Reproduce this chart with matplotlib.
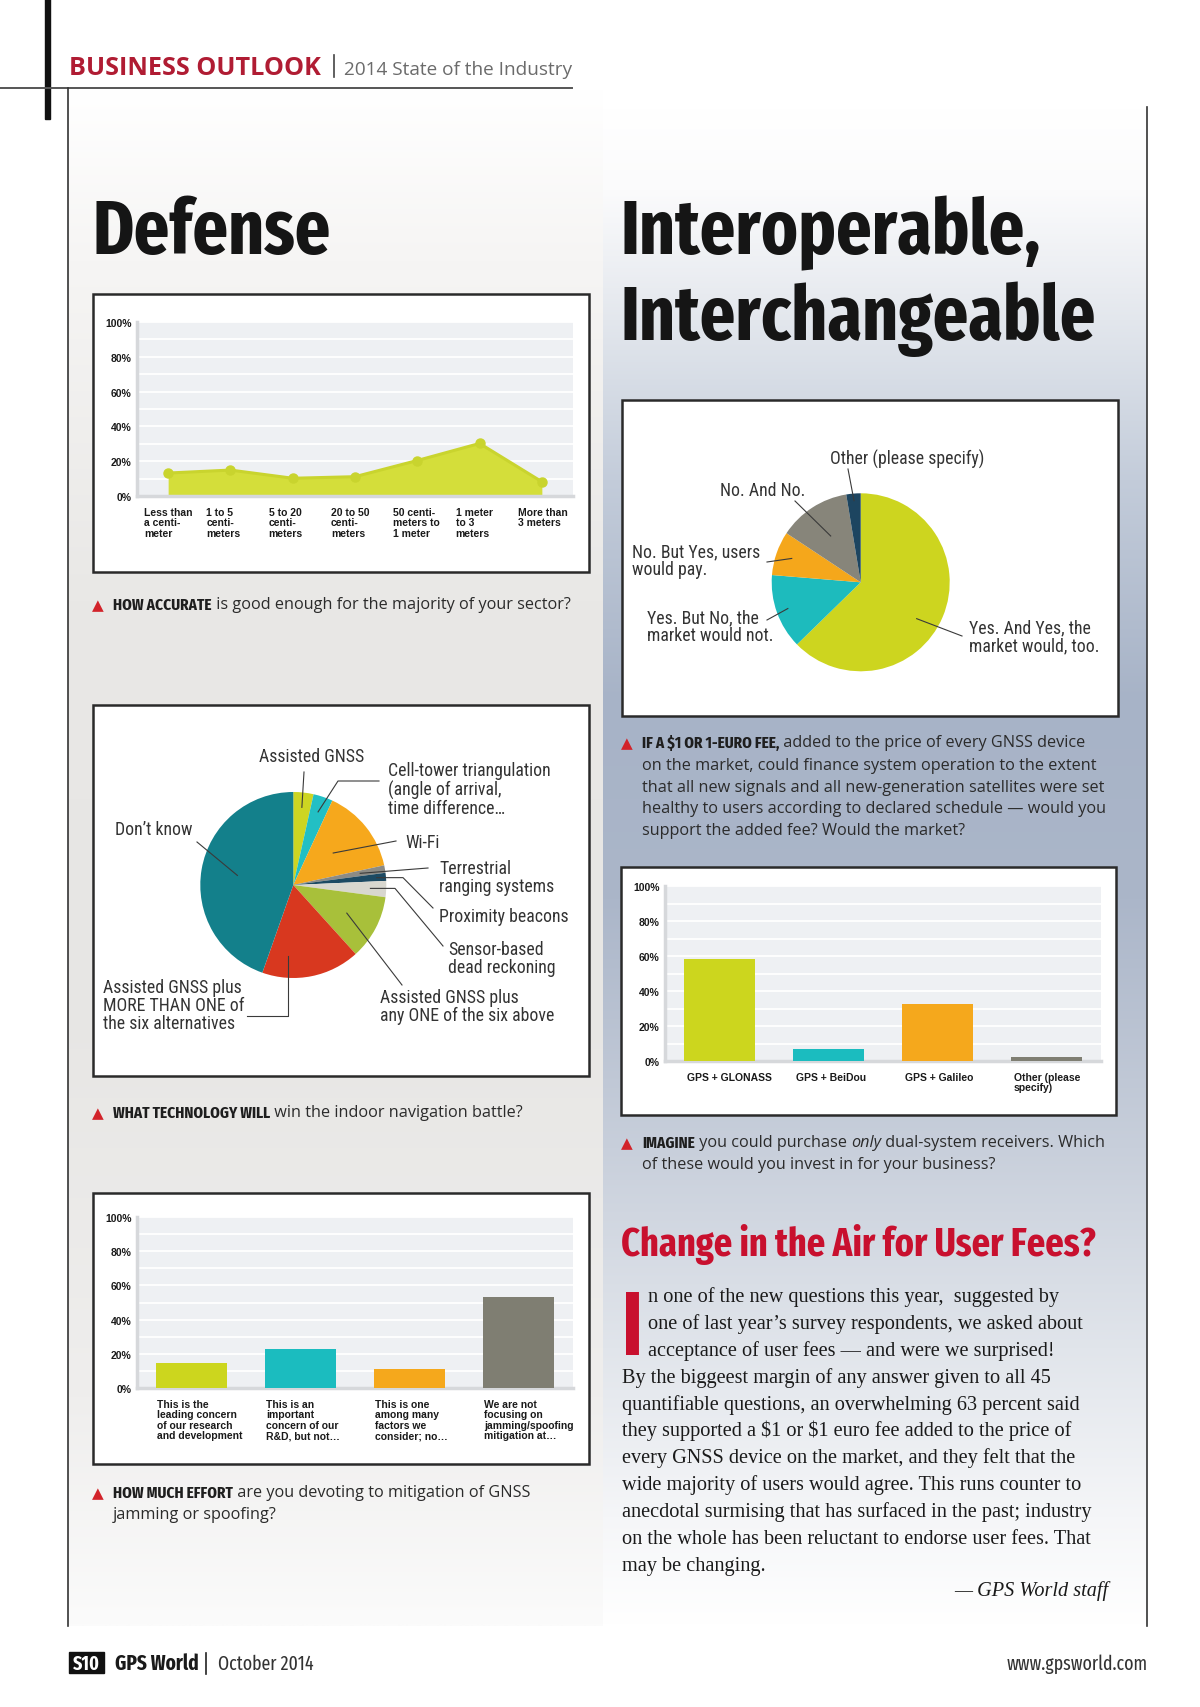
import numpy as np
import matplotlib
matplotlib.use("Agg")
import matplotlib.pyplot as plt
from matplotlib.patches import Rectangle

# ---------------- data ----------------
accuracy_labels = ["Less than\na centi-\nmeter", "1 to 5\ncenti-\nmeters", "5 to 20\ncenti-\nmeters",
                   "20 to 50\ncenti-\nmeters", "50 centi-\nmeters to\n1 meter", "1 meter\nto 3\nmeters",
                   "More than\n3 meters"]
accuracy_values = [13.2, 14.9, 10.2, 11.1, 20.4, 30.2, 8.2]

indoor_labels = ["Assisted GNSS", "Cell-tower triangulation", "Wi-Fi", "Terrestrial ranging systems",
                 "Proximity beacons", "Sensor-based dead reckoning", "Assisted GNSS plus any ONE",
                 "Assisted GNSS plus MORE THAN ONE", "Don't know"]
indoor_values = [3.5, 3.4, 14.7, 1.3, 1.4, 2.8, 11.2, 17.1, 44.6]
indoor_colors = ["#cdd522", "#22bfc4", "#f6a81c", "#8c8b85", "#1c4a63", "#d8d7cf", "#a8c03a", "#d8381f", "#13808b"]

jam_labels = ["This is the\nleading concern\nof our research\nand development",
              "This is an\nimportant\nconcern of our\nR&D, but not\u2026",
              "This is one\namong many\nfactors we\nconsider; no\u2026",
              "We are not\nfocusing on\njamming/spoofing\nmitigation at\u2026"]
jam_values = [14.6, 22.6, 11.3, 53.2]
jam_colors = ["#ccd61e", "#1bbcbf", "#f5a81c", "#7f7e72"]

fee_labels = ["Yes. And Yes, the\nmarket would, too.", "Yes. But No, the\nmarket would not.",
              "No. But Yes, users\nwould pay.", "No. And No.", "Other (please specify)"]
fee_values = [62.7, 13.6, 8.0, 13.1, 2.6]
fee_colors = ["#cdd51f", "#1dbbbd", "#f5a71b", "#87857a", "#1d4560"]

dual_labels = ["GPS + GLONASS", "GPS + BeiDou", "GPS + Galileo", "Other (please\nspecify)"]
dual_values = [58.5, 6.6, 32.5, 2.4]
dual_colors = ["#ccd61e", "#1bbcbf", "#f5a81c", "#7f7e72"]

pct_ticks = [0, 20, 40, 60, 80, 100]
pct_ticklabels = ["0%", "20%", "40%", "60%", "80%", "100%"]

# ---------------- fonts ----------------
XCOND = ["Fira Sans Extra Condensed", "Fira Sans Condensed", "Barlow Condensed", "DejaVu Sans"]
LABELF = ["Roboto Condensed", "Archivo Narrow", "Fira Sans Condensed", "DejaVu Sans"]
SANS = ["Open Sans", "Lato", "DejaVu Sans"]
ARIAL = ["Liberation Sans", "DejaVu Sans"]
SERIF = ["Liberation Serif", "DejaVu Serif"]
OPEN = ["Open Sans", "DejaVu Sans"]

W, H = 1200, 1708
fig = plt.figure(figsize=(W / 100, H / 100), dpi=100)
fig.patch.set_facecolor("white")


def rect(x0, y0, x1, y1):
    return [x0 / W, 1 - y1 / H, (x1 - x0) / W, (y1 - y0) / H]


# ---------------- background ----------------
bg = fig.add_axes([0, 0, 1, 1])
bg.set_axis_off()


def vgrad(ax, x0, x1, y0, y1, stops_y, stops_c):
    ys = np.linspace(y0, y1, 400)
    cols = np.array([matplotlib.colors.to_rgb(c) for c in stops_c])
    img = np.stack([np.interp(ys, stops_y, cols[:, k]) for k in range(3)], axis=-1)
    img = img[:, None, :]
    ax.imshow(img, extent=(x0, x1, y1, y0), aspect="auto", origin="upper",
              interpolation="bilinear", zorder=0)


vgrad(bg, 68, 603, 89, 1627,
      [89, 260, 600, 1000, 1400, 1627],
      ["#ffffff", "#f6f5f4", "#e9e8e6", "#e7e6e4", "#efeeed", "#fbfbfb"])
vgrad(bg, 603, 1147, 108, 1627,
      [108, 190, 320, 480, 700, 900, 1150, 1350, 1520, 1627],
      ["#ffffff", "#fbfbfc", "#e3e7ed", "#c3ccda", "#a7b3c7", "#abb6c9", "#c8cfdb", "#e1e5eb", "#f5f6f8", "#ffffff"])
bg.set_xlim(0, W)
bg.set_ylim(H, 0)

# page rules
bg.add_patch(Rectangle((45, 0), 5, 120, color="#111111", zorder=3))
bg.plot([0, 572], [89, 89], color="#555555", lw=1.4, zorder=3)
bg.plot([68, 68], [89, 1627], color="#333333", lw=1.2, zorder=3)
bg.plot([1147, 1147], [108, 1627], color="#333333", lw=1.2, zorder=3)
bg.plot([334, 334], [56, 78], color="#444444", lw=1.2, zorder=3)
bg.plot([206, 206], [1654, 1675], color="#222222", lw=1.2, zorder=3)

# chart frames
for (x0, y0, x1, y1) in [(93, 295, 589, 573), (93, 706, 589, 1077), (93, 1194, 589, 1465),
                         (622, 401, 1118, 717), (621, 868, 1116, 1116)]:
    bg.add_patch(Rectangle((x0, y0), x1 - x0, y1 - y0, facecolor="white",
                           edgecolor="#2a2a2a", lw=1.8, zorder=4))
bg.add_patch(Rectangle((69, 1653), 35, 21, color="#111111", zorder=4))


# ---------------- helper for small charts ----------------
def style_chart(ax):
    ax.set_facecolor("#eef0f3")
    ax.set_ylim(0, 100)
    ax.set_yticks(pct_ticks)
    ax.set_yticklabels(pct_ticklabels)
    ax.set_yticks(np.arange(0, 101, 10), minor=True)
    ax.grid(axis="y", which="both", color="white", lw=1.3)
    ax.set_axisbelow(True)
    for s in ["top", "right"]:
        ax.spines[s].set_visible(False)
    for s in ["left", "bottom"]:
        ax.spines[s].set_color("#d6d8db")
        ax.spines[s].set_linewidth(2.5)
    ax.tick_params(axis="both", which="both", length=0, pad=4)
    ax.set_xticks([])
    for lbl in ax.get_yticklabels():
        lbl.set_fontfamily(ARIAL)
        lbl.set_fontweight("bold")
        lbl.set_fontsize(7.5)
        lbl.set_color("#1a1a1a")


TICKLBL = dict(ha="left", va="top", fontsize=7.5, fontweight="bold", family=ARIAL,
               color="#1a1a1a", linespacing=1.05, annotation_clip=False,
               xycoords=("data", "axes fraction"), textcoords="offset pixels")

# chart 1: accuracy area
ax1 = fig.add_axes(rect(137, 323, 573, 497))
style_chart(ax1)
xs = np.arange(len(accuracy_values))
ax1.set_xlim(-0.5, len(xs) - 0.5)
ax1.fill_between(xs, accuracy_values, color="#d4de3a", zorder=2, lw=0)
ax1.plot(xs, accuracy_values, color="#c9d42e", lw=2.2, marker="o", ms=6.5, zorder=3)
for i, lab in enumerate(accuracy_labels):
    ax1.annotate(lab, xy=(i, 0), xytext=(-24, -11), **TICKLBL)

# chart 3: jamming bars
ax3 = fig.add_axes(rect(137, 1218, 573, 1389))
style_chart(ax3)
xb = np.arange(len(jam_values))
ax3.set_xlim(-0.5, len(xb) - 0.5)
bw = 0.65
ax3.bar(xb, jam_values, width=bw, color=jam_colors, zorder=3)
for i, lab in enumerate(jam_labels):
    ax3.annotate(lab, xy=(i - bw / 2, 0), xytext=(1, -11), **TICKLBL)

# chart 5: dual system bars
ax5 = fig.add_axes(rect(665, 887, 1101, 1062))
style_chart(ax5)
xd = np.arange(len(dual_values))
ax5.set_xlim(-0.5, len(xd) - 0.5)
ax5.bar(xd, dual_values, width=0.66, color=dual_colors, zorder=3)
for i, lab in enumerate(dual_labels):
    ax5.annotate(lab, xy=(i - 0.33, 0), xytext=(3, -11), **TICKLBL)

# pies
L_CX, L_CY, L_R = 293.3, 886.0, 93.0
R_CX, R_CY, R_R = 860.7, 583.3, 89.0

axp1 = fig.add_axes(rect(L_CX - L_R, L_CY - L_R, L_CX + L_R, L_CY + L_R))
axp1.pie(indoor_values, colors=indoor_colors, startangle=90, counterclock=False, radius=1,
         wedgeprops=dict(linewidth=0))
axp1.set_xlim(-1, 1); axp1.set_ylim(-1, 1); axp1.set_axis_off()

axp2 = fig.add_axes(rect(R_CX - R_R, R_CY - R_R, R_CX + R_R, R_CY + R_R))
axp2.pie(fee_values, colors=fee_colors, startangle=90, counterclock=False, radius=1,
         wedgeprops=dict(linewidth=0))
axp2.set_xlim(-1, 1); axp2.set_ylim(-1, 1); axp2.set_axis_off()

# ---------------- overlay for text ----------------
ov = fig.add_axes([0, 0, 1, 1])
ov.set_xlim(0, W)
ov.set_ylim(H, 0)
ov.set_axis_off()
ov.patch.set_alpha(0)


def pie_point(cx, cy, R, vals, idx, frac, r):
    tot = float(sum(vals))
    a = (sum(vals[:idx]) + frac * vals[idx]) / tot * 2 * np.pi
    return cx + r * R * np.sin(a), cy - r * R * np.cos(a)


LBL = dict(family=LABELF, fontsize=12.8, color="#333333", linespacing=1.0)
LEAD = dict(color="#3a3a3a", lw=0.8, zorder=6)

left_specs = [
    ("Assisted GNSS", 312, 757, "center", 0, 0.5, 0.84, (304, 773), None),
    ("Cell-tower triangulation\n(angle of arrival,\ntime difference\u2026", 388, 790, "left", 1, 0.5, 0.83, (379, 782), ("h", 338)),
    ("Wi-Fi", 405, 843, "left", 2, 0.5, 0.55, (396, 842), None),
    ("Terrestrial\nranging systems", 439, 878, "left", 3, 0.5, 0.73, (428, 869), None),
    ("Proximity beacons", 439, 917, "left", 4, 0.5, 0.9, (433, 909), ("d", 403)),
    ("Sensor-based\ndead reckoning", 448, 959, "left", 5, 0.5, 0.83, (443, 947), ("d", 395)),
    ("Assisted GNSS plus\nany ONE of the six above", 380, 1007, "left", 6, 0.5, 0.65, (402, 986), None),
    ("Assisted GNSS plus\nMORE THAN ONE of\nthe six alternatives", 103, 1006, "left", 7, 0.75, 0.77, (247, 1017), ("v", None)),
    ("Don\u2019t know", 115, 830, "left", 8, 0.5, 0.61, (197, 843), None),
]
for txt, x, y, ha, idx, frac, r, start, elbow in left_specs:
    ov.text(x, y, txt, ha=ha, va="center", **LBL)
    px, py = pie_point(L_CX, L_CY, L_R, indoor_values, idx, frac, r)
    if elbow is None:
        ov.plot([start[0], px], [start[1], py], **LEAD)
    elif elbow[0] == "h":
        ov.plot([start[0], elbow[1], px], [start[1], start[1], py], **LEAD)
    elif elbow[0] == "d":
        ov.plot([start[0], elbow[1], px], [start[1], py, py], **LEAD)
    else:
        ov.plot([start[0], px, px], [start[1], start[1], py], **LEAD)

right_specs = [
    (fee_labels[4], 830, 459, 4, 0.5, 0.92, (848, 470)),
    (fee_labels[3], 720, 491, 3, 0.5, 0.62, (795, 502)),
    (fee_labels[2], 632, 561, 2, 0.5, 0.82, (767, 563)),
    (fee_labels[1], 647, 627, 1, 0.5, 0.87, (767, 621)),
    (fee_labels[0], 969, 637, 0, 0.545, 0.75, (962, 637)),
]
for txt, x, y, idx, frac, r, start in right_specs:
    ov.text(x, y, txt, ha="left", va="center", **LBL)
    px, py = pie_point(R_CX, R_CY, R_R, fee_values, idx, frac, r)
    ov.plot([start[0], px], [start[1], py], **LEAD)

# header
ov.text(69, 75, "BUSINESS OUTLOOK", family=OPEN, fontweight="bold", fontsize=18.2,
        color="#b01c33", va="baseline", ha="left")
ov.text(344, 75, "2014 State of the Industry", family=OPEN, fontsize=13.7, color="#6b6b6b",
        va="baseline", ha="left")

# headlines
HEAD = dict(family=XCOND, fontweight="bold", fontsize=54.5, color="#151515", va="baseline", ha="left")
ov.text(92, 254, "Defense", **HEAD)
ov.text(620, 254, "Interoperable,", **HEAD)
ov.text(620, 340, "Interchangeable", **HEAD)

CAP = 11.7
BOLDCAP = 11.9


# captions
def caption(x, y, parts, size=CAP):
    ov.text(x - 21, y, "\u25b2", family=["DejaVu Sans"], fontsize=11, color="#d2232a",
            va="baseline", ha="left")
    prev = None
    for txt, kind in parts:
        kw = dict(fontsize=size, color="#2b2b2b", parse_math=False)
        if kind == "b":
            kw.update(family=XCOND, fontweight="bold", color="#1e1e1e", fontsize=BOLDCAP)
        elif kind == "i":
            kw.update(family=SANS, fontstyle="italic", fontweight="normal")
        else:
            kw.update(family=SANS, fontweight="normal")
        if prev is None:
            prev = ov.text(x, y, txt, va="baseline", ha="left", **kw)
        else:
            prev = ov.annotate(txt, xy=(1, 0), xycoords=prev, va="bottom", ha="left", **kw)


def more_lines(x, y0, step, lines, size=CAP):
    for k, ln in enumerate(lines):
        ov.text(x, y0 + k * step, ln, family=SANS, fontweight="normal", fontsize=size,
                color="#2b2b2b", va="baseline", ha="left", parse_math=False)


caption(113, 610, [("HOW ACCURATE", "b"), (" is good enough for the majority of your sector?", "r")])
caption(113, 1118, [("WHAT TECHNOLOGY WILL", "b"), (" win the indoor navigation battle?", "r")])
caption(113, 1498, [("HOW MUCH EFFORT", "b"), (" are you devoting to mitigation of GNSS", "r")])
more_lines(113, 1519, 21, ["jamming or spoofing?"])
caption(642, 748, [("IF A $1 OR 1-EURO FEE,", "b"), (" added to the price of every GNSS device", "r")])
more_lines(642, 770, 21.7, ["on the market, could finance system operation to the extent",
                            "that all new signals and all new-generation satellites were set",
                            "healthy to users according to declared schedule \u2014 would you",
                            "support the added fee? Would the market?"])
caption(642, 1148, [("IMAGINE", "b"), (" you could purchase ", "r"), ("only", "i"),
                    (" dual-system receivers. Which", "r")])
more_lines(642, 1169, 21, ["of these would you invest in for your business?"])

# article
ov.text(621, 1256, "Change in the Air for User Fees?", family=XCOND, fontweight="bold",
        fontsize=28.4, color="#c8102e", va="baseline", ha="left")
ov.text(620, 1355, "I", family=ARIAL, fontweight="bold", fontsize=65, color="#c8102e",
        va="baseline", ha="left")
body = [
    ("n one of the new questions this year,  suggested by", 648),
    ("one of last year\u2019s survey respondents, we asked about", 648),
    ("acceptance of user fees \u2014 and were we surprised!", 648),
    ("By the biggeest margin of any answer given to all 45", 622),
    ("quantifiable questions, an overwhelming 63 percent said", 622),
    ("they supported a $1 or $1 euro fee added to the price of", 622),
    ("every GNSS device on the market, and they felt that the", 622),
    ("wide majority of users would agree. This runs counter to", 622),
    ("anecdotal surmising that has surfaced in the past; industry", 622),
    ("on the whole has been reluctant to endorse user fees. That", 622),
    ("may be changing.", 622),
]
for k, (ln, x) in enumerate(body):
    ov.text(x, 1302 + k * 26.9, ln, family=SERIF, fontsize=14.6, color="#1a1a1a",
            va="baseline", ha="left", parse_math=False)
ov.text(1108, 1596, "\u2014 GPS World staff", family=SERIF, fontstyle="italic", fontsize=14.6,
        color="#1a1a1a", va="baseline", ha="right")

# footer
ov.text(86.5, 1664, "S10", family=XCOND, fontweight="bold", fontsize=14, color="white",
        va="center", ha="center")
ov.text(115, 1664, "GPS World", family=XCOND, fontweight="bold", fontsize=15, color="#1a1a1a",
        va="center", ha="left")
ov.text(218, 1664, "October 2014", family=XCOND, fontsize=14, color="#333333",
        va="center", ha="left")
ov.text(1148, 1664, "www.gpsworld.com", family=XCOND, fontsize=14, color="#333333",
        va="center", ha="right")

fig.savefig("out.png", dpi=100)
